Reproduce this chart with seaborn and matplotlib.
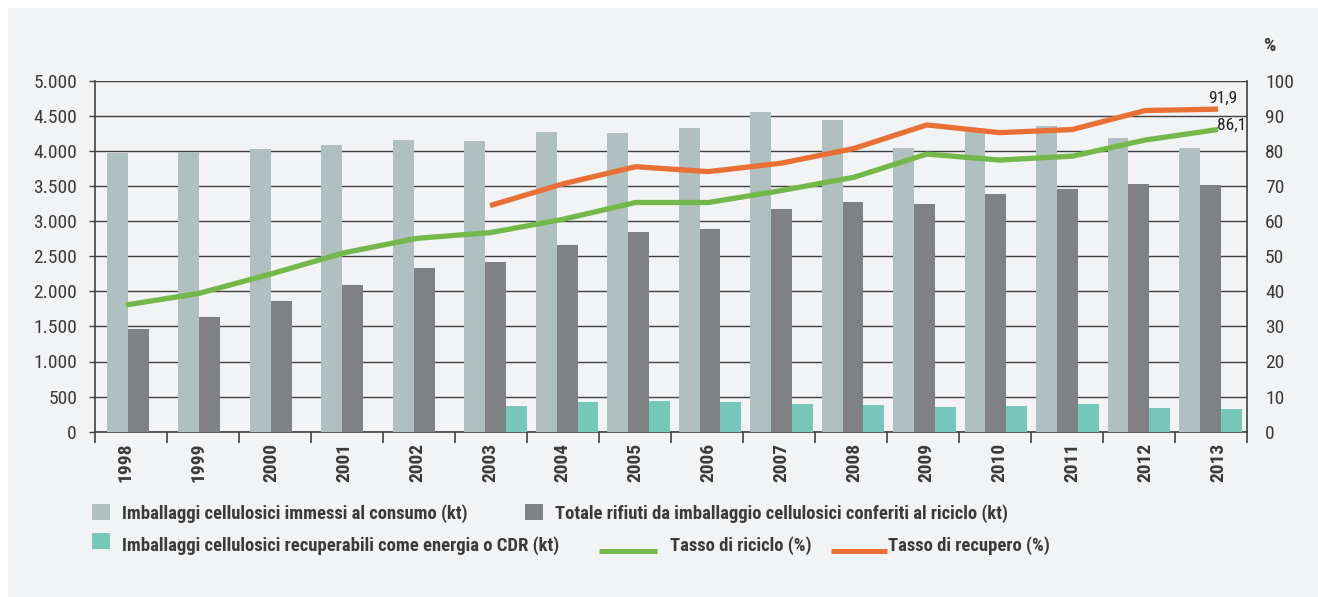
import numpy as np
import pandas as pd
import matplotlib
matplotlib.use("Agg")
import matplotlib.pyplot as plt
import seaborn as sns
from matplotlib.patches import Rectangle
from matplotlib.lines import Line2D

years = ["1998", "1999", "2000", "2001", "2002", "2003", "2004", "2005",
         "2006", "2007", "2008", "2009", "2010", "2011", "2012", "2013"]
immessi = [3970, 3985, 4020, 4085, 4155, 4140, 4270, 4255, 4325, 4555, 4440,
           4040, 4280, 4355, 4185, 4040]
riciclo_kt = [1470, 1630, 1860, 2090, 2330, 2415, 2660, 2845, 2885, 3170, 3270,
              3245, 3385, 3455, 3530, 3515]
energia = [np.nan, np.nan, np.nan, np.nan, np.nan, 365, 425, 435, 425, 395, 380,
           350, 365, 395, 340, 325]
tasso_riciclo = [36.1, 39.4, 45.0, 51.0, 55.1, 56.7, 60.5, 65.3, 65.3, 68.7, 72.5,
                 79.1, 77.4, 78.5, 83.1, 86.1]
tasso_recupero = [np.nan, np.nan, np.nan, np.nan, np.nan, 64.4, 70.6, 75.5, 74.1,
                  76.5, 80.7, 87.4, 85.2, 86.1, 91.5, 91.9]

lab_imm = "Imballaggi cellulosici immessi al consumo (kt)"
lab_ric = "Totale rifiuti da imballaggio cellulosici conferiti al riciclo (kt)"
lab_en = "Imballaggi cellulosici recuperabili come energia o CDR (kt)"
lab_tr = "Tasso di riciclo (%)"
lab_tp = "Tasso di recupero (%)"

c_imm = "#b0bfbf"
c_ric = "#808184"
c_en = "#76c9ba"
c_green = "#72b84a"
c_orange = "#e87034"
bg = "#f2f3f5"
txt = "#3a3a3a"
grid_c = "#404040"

df = pd.DataFrame({
    "anno": years * 3,
    "valore": immessi + riciclo_kt + energia,
    "serie": [lab_imm] * 16 + [lab_ric] * 16 + [lab_en] * 16,
})

sns.set_theme(style="white")
fam = ["Roboto Condensed", "DejaVu Sans"]
plt.rcParams["font.family"] = fam

W, H = 1318, 597
PX = 72 / 100  # points per pixel
fig = plt.figure(figsize=(W / 100, H / 100), dpi=100, facecolor="white")
fig.patches.append(Rectangle((8 / W, 0), 1, 1 - 8 / H,
                             transform=fig.transFigure, facecolor=bg,
                             edgecolor="none", zorder=-10))

L, R, B, T = 95, 1247, 431.7, 80.7
rect = [L / W, 1 - B / H, (R - L) / W, (B - T) / H]

# ---- bars (left axis) ----
ax = fig.add_axes(rect)
ax.set_facecolor("none")
sns.barplot(data=df, x="anno", y="valore", hue="serie",
            palette=[c_imm, c_ric, c_en], width=0.875, gap=0,
            saturation=1, errorbar=None, legend=False, ax=ax, zorder=3,
            linewidth=0)

bar_step = 71.47                      # px per category for the bar groups
bx0 = -0.4375 - (107 - L) / bar_step  # first bar starts 12 px right of the axis
bx1 = bx0 + (R - L) / bar_step
ax.set_xlim(bx0, bx1)
ax.set_ylim(0, 5000)
ax.set_yticks(np.arange(0, 5001, 500))
ax.set_yticklabels([f"{v:,}".replace(",", ".") for v in range(0, 5001, 500)],
                   fontsize=14, color=txt)
ax.yaxis.grid(True, color=grid_c, linewidth=1.0, zorder=0)
ax.set_axisbelow(True)
ax.set_xlabel("")
ax.set_ylabel("")
ax.set_xticks([])
ax.set_xticks(bx0 + np.arange(17) * 72 / bar_step, minor=True)
ax.tick_params(axis="x", which="minor", length=11 * PX, width=1.2, color=grid_c,
               direction="out", bottom=True)
ax.tick_params(axis="y", length=6 * PX, width=1, color=grid_c, pad=12 * PX, left=True)
for s in ["top", "right"]:
    ax.spines[s].set_visible(False)
for s in ["left", "bottom"]:
    ax.spines[s].set_color(grid_c)
    ax.spines[s].set_linewidth(1.2)

# ---- lines (right axis) ----
ax2 = fig.add_axes(rect)
ax2.patch.set_visible(False)
x = np.arange(16)
sns.lineplot(x=x, y=tasso_riciclo, color=c_green, linewidth=3.8, ax=ax2,
             zorder=5, solid_capstyle="butt")
sns.lineplot(x=x, y=tasso_recupero, color=c_orange, linewidth=3.8, ax=ax2,
             zorder=6, solid_capstyle="butt")
line_step = 72.8
lx0 = -(126 - L) / line_step
ax2.set_xlim(lx0, lx0 + (R - L) / line_step)
ax2.set_ylim(0, 100)
ax2.yaxis.tick_right()
ax2.set_yticks(np.arange(0, 101, 10))
ax2.set_yticklabels([str(v) for v in range(0, 101, 10)], fontsize=14, color=txt)
ax2.tick_params(axis="y", length=0, pad=18 * PX, right=True, left=False)
ax2.set_xticks(x)
ax2.set_xticklabels(years, rotation=90, fontsize=14, fontweight="bold", color=txt,
                    va="top", ha="center")
ax2.tick_params(axis="x", length=0, pad=11 * PX)
ax2.set_xlabel("")
ax2.set_ylabel("")
for s in ["top", "left", "bottom"]:
    ax2.spines[s].set_visible(False)
ax2.spines["right"].set_color(grid_c)
ax2.spines["right"].set_linewidth(1.2)
ax2.grid(False)

ax2.annotate("91,9", (15, tasso_recupero[-1]), xytext=(4.5 * PX, 10.8 * PX),
             textcoords="offset points", ha="center", va="center",
             fontsize=12.5, color="#222222")
ax2.annotate("86,1", (15, tasso_riciclo[-1]), xytext=(13.7 * PX, 4.5 * PX),
             textcoords="offset points", ha="center", va="center",
             fontsize=12.5, color="#222222")

fig.text(1269.5 / W, 1 - 46 / H, "%", fontsize=14, fontweight="bold", color=txt,
         ha="center", va="center")

# ---- legend ----
probe = fig.text(0, 0, lab_imm, fontsize=12, fontweight="bold")
fig.canvas.draw()
wpx = probe.get_window_extent(fig.canvas.get_renderer()).width
probe.remove()
leg_fs = 12 * (470 - 122) / wpx


def fx(px):
    return px / W


def fy(py):
    return 1 - py / H


def leg_patch(color, x0, x1, y0, y1):
    fig.patches.append(Rectangle((fx(x0), fy(y1)), (x1 - x0) / W, (y1 - y0) / H,
                                 transform=fig.transFigure, facecolor=color,
                                 edgecolor="none"))


def leg_line(color, x0, x1, y):
    fig.add_artist(Line2D([fx(x0), fx(x1)], [fy(y), fy(y)], color=color,
                          linewidth=5 * PX, transform=fig.transFigure,
                          solid_capstyle="butt"))


def leg_text(label, x0, ybase):
    fig.text(fx(x0), fy(ybase), label, fontsize=leg_fs, fontweight="bold",
             color=txt, ha="left", va="baseline")


leg_patch(c_imm, 92, 110, 504, 520)
leg_text(lab_imm, 122, 519)
leg_patch(c_ric, 525, 543, 504, 520)
leg_text(lab_ric, 555, 519)
leg_patch(c_en, 92, 110, 533, 549)
leg_text(lab_en, 122, 551)
leg_line(c_green, 599, 657, 551)
leg_text(lab_tr, 670, 551)
leg_line(c_orange, 831, 887, 551)
leg_text(lab_tp, 888, 551)

fig.savefig("out.png", dpi=100, facecolor="white")
